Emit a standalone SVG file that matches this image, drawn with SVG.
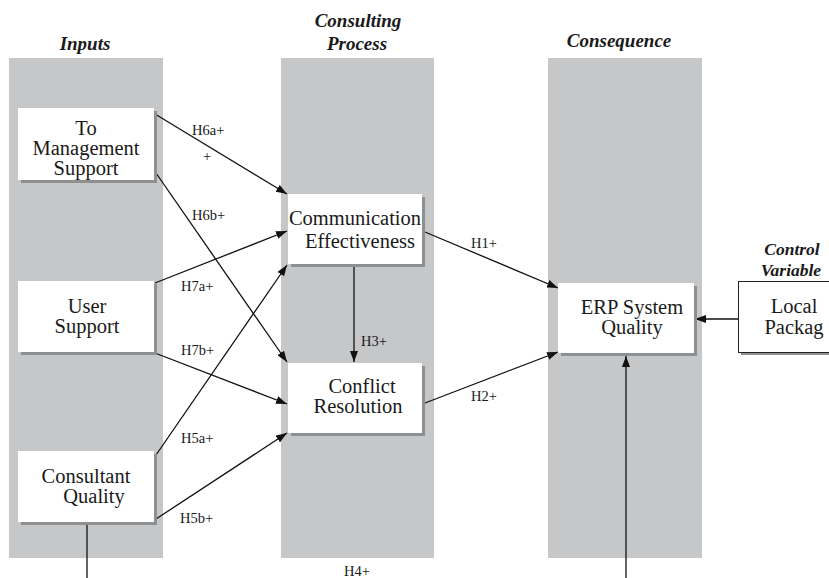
<svg xmlns="http://www.w3.org/2000/svg" width="829" height="578" viewBox="0 0 829 578">
<defs>
<marker id="ah" markerUnits="userSpaceOnUse" markerWidth="11" markerHeight="8" refX="11" refY="4" orient="auto">
<path d="M0,0 L11,4 L0,8 z" fill="#111"/>
</marker>
<style>
text{font-family:'Liberation Serif','Times New Roman',Tinos,'DejaVu Serif',serif}
.col{fill:#c6c7c9}
.box{fill:#fff}
.sh{fill:#8e8f91}
.nt{font-size:20.5px;fill:#1a1a1a;text-anchor:middle}
.tt{font-size:19px;font-weight:bold;font-style:italic;fill:#1a1a1a;text-anchor:middle}
.lb{font-size:14.5px;fill:#1a1a1a}
.ln{stroke:#111;stroke-width:1.3;fill:none}
</style>
</defs>
<rect width="829" height="578" fill="#fff"/>
<g id="columns">
<rect class="col" x="9" y="58" width="154" height="500"/>
<rect class="col" x="281" y="58" width="153" height="500"/>
<rect class="col" x="548" y="58" width="154" height="500"/>
</g>
<g id="titles">
<text class="tt" x="85" y="50">Inputs</text>
<text class="tt" x="358" y="27">Consulting</text>
<text class="tt" x="357" y="50">Process</text>
<text class="tt" x="619" y="47">Consequence</text>
<text class="tt" x="792" y="255" style="font-size:17.5px">Control</text>
<text class="tt" x="791" y="276" style="font-size:17.5px">Variable</text>
</g>
<g id="connectors">
<line class="ln" x1="155" y1="114" x2="287" y2="194" marker-end="url(#ah)"/>
<line class="ln" x1="156" y1="173" x2="287" y2="362" marker-end="url(#ah)"/>
<line class="ln" x1="155" y1="283" x2="287" y2="231" marker-end="url(#ah)"/>
<line class="ln" x1="155" y1="353" x2="287" y2="404" marker-end="url(#ah)"/>
<line class="ln" x1="156" y1="455" x2="287" y2="265" marker-end="url(#ah)"/>
<line class="ln" x1="156" y1="519" x2="287" y2="433" marker-end="url(#ah)"/>
<line class="ln" x1="354" y1="265" x2="354" y2="362" marker-end="url(#ah)"/>
<line class="ln" x1="425" y1="232" x2="558" y2="288" marker-end="url(#ah)"/>
<line class="ln" x1="425" y1="403" x2="558" y2="352" marker-end="url(#ah)"/>
<line class="ln" x1="738" y1="319" x2="695" y2="319" marker-end="url(#ah)"/>
<line class="ln" x1="87" y1="522" x2="87" y2="578"/>
<line class="ln" x1="626" y1="578" x2="626" y2="356" stroke="#3a3a3a" stroke-width="1.6" marker-end="url(#ah)"/>
<text class="lb" x="192" y="135">H6a+</text>
<text class="lb" x="203" y="161">+</text>
<text class="lb" x="192" y="220">H6b+</text>
<text class="lb" x="181" y="291">H7a+</text>
<text class="lb" x="181" y="355">H7b+</text>
<text class="lb" x="181" y="443">H5a+</text>
<text class="lb" x="180" y="523">H5b+</text>
<text class="lb" x="361" y="346">H3+</text>
<text class="lb" x="471" y="248">H1+</text>
<text class="lb" x="471" y="401">H2+</text>
<text class="lb" x="344" y="576">H4+</text>
</g>
<g id="top-management-support">
<rect class="sh" x="21" y="111" width="136" height="72"/>
<rect class="box" x="18" y="108" width="136" height="72"/>
<text class="nt" x="86" y="135">To</text>
<text class="nt" x="86" y="155">Management</text>
<text class="nt" x="86" y="175">Support</text>
</g>
<g id="user-support">
<rect class="sh" x="21" y="284" width="136" height="71"/>
<rect class="box" x="18" y="281" width="136" height="71"/>
<text class="nt" x="87" y="313">User</text>
<text class="nt" x="87" y="333">Support</text>
</g>
<g id="consultant-quality">
<rect class="sh" x="21" y="454" width="136" height="71"/>
<rect class="box" x="18" y="451" width="136" height="71"/>
<text class="nt" x="86" y="483">Consultant</text>
<text class="nt" x="94" y="503">Quality</text>
</g>
<g id="communication-effectiveness">
<rect class="sh" x="291" y="197" width="134" height="70"/>
<rect class="box" x="288" y="194" width="134" height="70"/>
<text class="nt" x="355" y="225">Communication</text>
<text class="nt" x="360" y="248">Effectiveness</text>
</g>
<g id="conflict-resolution">
<rect class="sh" x="291" y="366" width="134" height="70"/>
<rect class="box" x="288" y="363" width="134" height="70"/>
<text class="nt" x="362" y="393">Conflict</text>
<text class="nt" x="358" y="413">Resolution</text>
</g>
<g id="erp-system-quality">
<rect class="sh" x="561" y="286" width="136" height="70"/>
<rect class="box" x="558" y="283" width="136" height="70"/>
<text class="nt" x="632" y="314">ERP System</text>
<text class="nt" x="632" y="334">Quality</text>
</g>
<g id="local-package">
<rect class="sh" x="741" y="284" width="112" height="71"/>
<rect x="738.5" y="281.5" width="112" height="71" fill="#fff" stroke="#222" stroke-width="1"/>
<text class="nt" x="794" y="313">Local</text>
<text class="nt" x="794" y="334">Packag</text>
</g>
</svg>
